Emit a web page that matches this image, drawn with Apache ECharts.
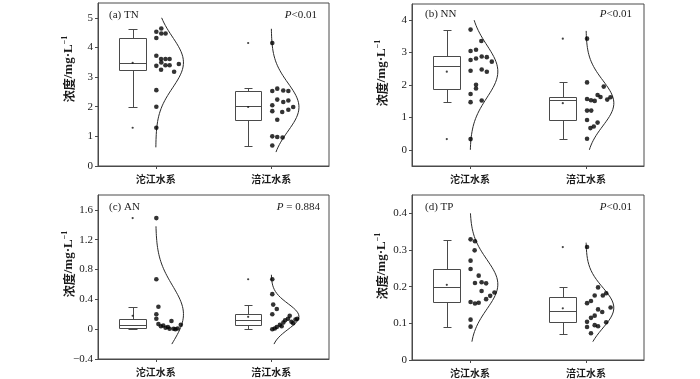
<!DOCTYPE html>
<html><head><meta charset="utf-8">
<script src="https://cdn.jsdelivr.net/npm/echarts@6/dist/echarts.min.js"></script>
<style>html,body{margin:0;padding:0;background:#fff}#c{width:700px;height:379px}</style>
</head><body><div id="c"></div>
<script>
// ---------------- data ----------------
const categories = ['沱江水系', '涪江水系'];

// (a) TN
const tnTuoValues = [4.64,4.53,4.47,4.47,4.32,3.72,3.61,3.61,3.61,3.49,3.44,3.40,3.40,3.38,3.25,3.18,2.56,2.00,1.29];
const tnTuoJitter = [0.048,0.005,0.048,0.085,0.005,0.005,0.046,0.084,0.12,0.048,0.2,0.084,0.12,0.005,0.046,0.159,0.005,0.005,0.005];
const tnFuValues  = [4.15,2.61,2.55,2.53,2.53,2.24,2.21,2.16,2.05,1.99,1.90,1.85,1.82,1.56,1.00,0.98,0.96,0.69];
const tnFuJitter  = [0.009,0.052,0.104,0.009,0.148,0.052,0.148,0.104,0.009,0.19,0.148,0.009,0.095,0.052,0.009,0.052,0.098,0.009];
const tnTuoBox = [2.0, 3.25, 3.49, 4.31, 4.63]; const tnTuoMean = 3.48; const tnTuoOutliers = [1.29];
const tnFuBox  = [0.67, 1.54, 2.01, 2.52, 2.62]; const tnFuMean = 1.99; const tnFuOutliers = [4.15];
const tnCurveRange = [[0.63, 5.0], [0.47, 4.63]];
const tnTicks = [0, 1, 2, 3, 4, 5];

// (b) NN
const nnTuoValues = [3.71,3.36,3.09,3.05,2.88,2.86,2.82,2.77,2.72,2.48,2.44,2.41,2.01,1.89,1.72,1.52,1.47,0.33];
const nnTuoJitter = [0.005,0.098,0.052,0.005,0.101,0.145,0.052,0.005,0.188,0.101,0.005,0.145,0.052,0.052,0.005,0.101,0.005,0.005];
const nnFuValues  = [3.43,2.08,1.95,1.69,1.63,1.62,1.57,1.55,1.53,1.51,1.21,1.21,0.92,0.84,0.72,0.67,0.34];
const nnFuJitter  = [0.009,0.009,0.153,0.10,0.125,0.211,0.009,0.183,0.043,0.075,0.009,0.045,0.009,0.10,0.067,0.038,0.009];
const nnTuoBox = [1.47, 1.88, 2.58, 2.88, 3.71]; const nnTuoMean = 2.41; const nnTuoOutliers = [0.33];
const nnFuBox  = [0.34, 0.92, 1.54, 1.62, 2.08]; const nnFuMean = 1.44; const nnFuOutliers = [3.43];
const nnCurveRange = [[0.0, 4.0], [0.0, 3.67]];
const nnTicks = [0, 1, 2, 3, 4];

// (c) AN
const anTuoValues = [1.49,0.67,0.30,0.20,0.14,0.07,0.04,0.05,0.02,0.03,0.11,0.005,0.005,0.01,0.06,0.0];
const anTuoJitter = [0.005,0.005,0.023,0.005,0.005,0.023,0.045,0.065,0.085,0.105,0.136,0.12,0.155,0.19,0.217,0.17];
const anFuValues  = [0.67,0.47,0.33,0.27,0.20,0.00,0.01,0.03,0.06,0.04,0.09,0.12,0.14,0.18,0.10,0.08,0.13,0.14];
const anFuJitter  = [0.009,0.009,0.017,0.048,0.009,0.009,0.03,0.048,0.075,0.09,0.105,0.12,0.145,0.16,0.175,0.19,0.21,0.225];
const anTuoBox = [0.0, 0.01, 0.055, 0.143, 0.30]; const anTuoMean = 0.18; const anTuoOutliers = [1.49];
const anFuBox  = [0.0, 0.05, 0.12, 0.21, 0.33];  const anFuMean = 0.166; const anFuOutliers = [0.67];
const anCurveRange = [[-0.2, 1.38], [-0.2, 0.73]];
const anTicks = [-0.4, 0, 0.4, 0.8, 1.2, 1.6];

// (d) TP
const tpTuoValues = [0.329,0.324,0.299,0.271,0.248,0.230,0.212,0.210,0.209,0.188,0.184,0.175,0.166,0.158,0.156,0.154,0.110,0.091];
const tpTuoJitter = [0.005,0.043,0.04,0.005,0.005,0.075,0.10,0.043,0.139,0.10,0.211,0.174,0.139,0.005,0.075,0.043,0.005,0.005];
const tpFuValues  = [0.308,0.198,0.182,0.176,0.176,0.161,0.155,0.143,0.138,0.131,0.121,0.115,0.104,0.103,0.095,0.092,0.090,0.073];
const tpFuJitter  = [0.009,0.104,0.174,0.075,0.145,0.043,0.009,0.212,0.104,0.14,0.075,0.043,0.009,0.174,0.075,0.104,0.009,0.043];
const tpTuoBox = [0.09, 0.158, 0.198, 0.247, 0.328]; const tpTuoMean = 0.205; const tpTuoOutliers = [];
const tpFuBox  = [0.072, 0.103, 0.133, 0.172, 0.198]; const tpFuMean = 0.141; const tpFuOutliers = [0.308];
const tpCurveRange = [[0.05, 0.40], [0.05, 0.32]];
const tpTicks = [0, 0.1, 0.2, 0.3, 0.4];

const panelLabels = ['(a) TN', '(b) NN', '(c) AN', '(d) TP'];
const pLabels = ['{i|P}<0.01', '{i|P}<0.01', '{i|P} = 0.884', '{i|P}<0.01'];
const yTitle = '{c|浓度}{l|/mg·L}{s|−1}';

// ---------------- layout / style ----------------
const panels = [
  { groups: [[tnTuoValues, tnTuoJitter, tnTuoBox, tnTuoMean, tnTuoOutliers], [tnFuValues, tnFuJitter, tnFuBox, tnFuMean, tnFuOutliers]], range: tnCurveRange, ticks: tnTicks, min: 0, max: 5.5,
    grid: {left: 98, top: 3, width: 231, height: 163}, title: [68, 69], lab: [109, 15], p: [317, 15] },
  { groups: [[nnTuoValues, nnTuoJitter, nnTuoBox, nnTuoMean, nnTuoOutliers], [nnFuValues, nnFuJitter, nnFuBox, nnFuMean, nnFuOutliers]], range: nnCurveRange, ticks: nnTicks, min: -0.5, max: 4.5,
    grid: {left: 412, top: 4, width: 232, height: 162}, title: [381, 73], lab: [425, 14], p: [632, 14] },
  { groups: [[anTuoValues, anTuoJitter, anTuoBox, anTuoMean, anTuoOutliers], [anFuValues, anFuJitter, anFuBox, anFuMean, anFuOutliers]], range: anCurveRange, ticks: anTicks, min: -0.4, max: 1.8,
    grid: {left: 98, top: 195, width: 231, height: 164}, title: [68, 264], lab: [109, 207], p: [320, 207] },
  { groups: [[tpTuoValues, tpTuoJitter, tpTuoBox, tpTuoMean, tpTuoOutliers], [tpFuValues, tpFuJitter, tpFuBox, tpFuMean, tpFuOutliers]], range: tpCurveRange, ticks: tpTicks, min: 0, max: 0.45,
    grid: {left: 412, top: 195, width: 232, height: 165}, title: [381, 266], lab: [425, 207], p: [632, 207] }
];

const LINE = '#4a4a4a';
const TXT = '#1a1a1a';
const SERIF = '"Liberation Serif","Times New Roman",serif';
const CJK = '"Noto Sans CJK SC","Noto Sans",sans-serif';
const BOX_OFFSET = -0.2, BOX_HALF = 0.115, CAP_HALF = 0.036, CURVE_PEAK = 0.24;

function meanSd(a) {
  const m = a.reduce((s, v) => s + v, 0) / a.length;
  const v = a.reduce((s, x) => s + (x - m) * (x - m), 0) / (a.length - 1);
  return [m, Math.sqrt(v)];
}
function normalCurve(values, cat, range) {
  const [mu, sd] = meanSd(values);
  const pts = [];
  const n = 100;
  for (let i = 0; i <= n; i++) {
    const y = range[0] + (range[1] - range[0]) * i / n;
    pts.push([cat + CURVE_PEAK * Math.exp(-0.5 * Math.pow((y - mu) / sd, 2)), y]);
  }
  return pts;
}
function renderBox(params, api) {
  const c = api.value(0);
  const lo = api.value(1), q1 = api.value(2), md = api.value(3), q3 = api.value(4), hi = api.value(5);
  const P = (x, y) => api.coord([x, y]);
  const xl = Math.round(P(c - BOX_HALF, 0)[0]) + 0.5, xr = Math.round(P(c + BOX_HALF, 0)[0]) + 0.5;
  const xc = Math.round(P(c, 0)[0]) + 0.5;
  const cl = Math.round(P(c - CAP_HALF, 0)[0]) + 0.5, cr = Math.round(P(c + CAP_HALF, 0)[0]) + 0.5;
  const Y = v => Math.round(P(c, v)[1]) + 0.5;
  const st = {stroke: LINE, lineWidth: 1, fill: null};
  return {type: 'group', children: [
    {type: 'line', shape: {x1: xc, y1: Y(q3), x2: xc, y2: Y(hi)}, style: st},
    {type: 'line', shape: {x1: xc, y1: Y(q1), x2: xc, y2: Y(lo)}, style: st},
    {type: 'line', shape: {x1: cl, y1: Y(hi), x2: cr, y2: Y(hi)}, style: st},
    {type: 'line', shape: {x1: cl, y1: Y(lo), x2: cr, y2: Y(lo)}, style: st},
    {type: 'rect', shape: {x: xl, y: Y(q3), width: xr - xl, height: Y(q1) - Y(q3)}, style: {stroke: LINE, lineWidth: 1, fill: '#fff'}},
    {type: 'line', shape: {x1: xl, y1: Y(md), x2: xr, y2: Y(md)}, style: st}
  ]};
}

const grid = [], xAxis = [], yAxis = [], series = [], graphic = [];
panels.forEach((pn, k) => {
  grid.push(Object.assign({show: true, borderColor: LINE, borderWidth: 1, backgroundColor: 'transparent'}, pn.grid));
  xAxis.push({
    type: 'value', gridIndex: k, min: 0.5, max: 2.5,
    axisLine: {show: true, onZero: false, lineStyle: {color: LINE}},
    axisTick: {show: true, customValues: [1, 2], length: 3, lineStyle: {color: LINE}},
    axisLabel: {customValues: [1, 2], formatter: v => categories[Math.round(v) - 1], fontFamily: CJK, fontSize: 10, fontWeight: 'bold', color: TXT, margin: 8},
    splitLine: {show: false}
  });
  yAxis.push({
    type: 'value', gridIndex: k, min: pn.min, max: pn.max,
    axisLine: {show: true, onZero: false, lineStyle: {color: LINE}},
    axisTick: {show: true, customValues: pn.ticks, length: 3, lineStyle: {color: LINE}},
    axisLabel: {customValues: pn.ticks, formatter: v => (v < 0 ? '−' + Math.abs(v) : String(v)), fontFamily: SERIF, fontSize: 11, color: TXT, margin: 5},
    splitLine: {show: false}
  });
  const boxData = [], smallData = [], dotData = [];
  pn.groups.forEach((g, gi) => {
    const cat = gi + 1;
    const [vals, jit, box, mean, outs] = g;
    boxData.push([cat + BOX_OFFSET].concat(box));
    smallData.push([cat + BOX_OFFSET, mean]);
    outs.forEach(o => smallData.push([cat + BOX_OFFSET, o]));
    vals.forEach((v, i) => dotData.push([cat + jit[i], v]));
    series.push({type: 'line', xAxisIndex: k, yAxisIndex: k, data: normalCurve(vals, cat, pn.range[gi]),
      showSymbol: false, symbol: 'none', smooth: false, lineStyle: {color: '#2a2a2a', width: 1}, z: 3, silent: true});
  });
  series.push({type: 'custom', xAxisIndex: k, yAxisIndex: k, data: boxData, renderItem: renderBox,
    encode: {x: 0, y: [1, 2, 3, 4, 5]}, z: 2, silent: true});
  series.push({type: 'scatter', xAxisIndex: k, yAxisIndex: k, data: smallData, symbolSize: 2.2,
    itemStyle: {color: '#111'}, z: 4, silent: true});
  series.push({type: 'scatter', xAxisIndex: k, yAxisIndex: k, data: dotData, symbolSize: 4.6,
    itemStyle: {color: '#000'}, z: 5, silent: true});

  graphic.push({type: 'text', x: pn.title[0], y: pn.title[1], rotation: Math.PI / 2,
    style: {text: yTitle, fill: TXT, align: 'center', verticalAlign: 'middle',
      rich: {
        c: {fontFamily: CJK, fontSize: 12, fontWeight: 'bold', fill: TXT, verticalAlign: 'bottom', lineHeight: 14},
        l: {fontFamily: SERIF, fontSize: 13, fontWeight: 'bold', fill: TXT, verticalAlign: 'bottom', lineHeight: 14},
        s: {fontFamily: SERIF, fontSize: 8, fontWeight: 'bold', fill: TXT, verticalAlign: 'top', lineHeight: 14, padding: [0, 0, 6, 0]}
      }}});
  graphic.push({type: 'text', x: pn.lab[0], y: pn.lab[1],
    style: {text: panelLabels[k], font: '11px ' + SERIF, fill: TXT, align: 'left', verticalAlign: 'middle'}});
  graphic.push({type: 'text', x: pn.p[0], y: pn.p[1],
    style: {text: pLabels[k], font: '11px ' + SERIF, fill: TXT, align: 'right', verticalAlign: 'middle',
      rich: {i: {fontStyle: 'italic', fontFamily: SERIF, fontSize: 11, fill: TXT}}}});
});

const chart = echarts.init(document.getElementById('c'), null, {renderer: 'canvas'});
chart.setOption({animation: false, backgroundColor: '#fff', grid, xAxis, yAxis, series, graphic});
</script></body></html>
